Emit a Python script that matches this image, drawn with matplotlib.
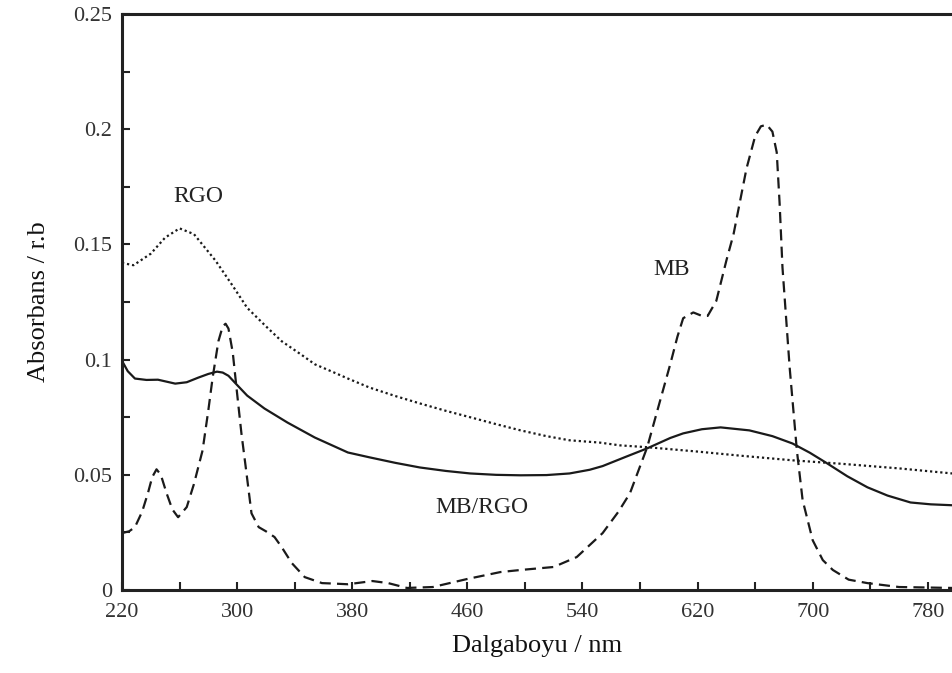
import matplotlib.pyplot as plt

plt.rcParams['font.family'] = ['Liberation Serif', 'DejaVu Serif']

# RGO (noktali)
rgo_x = [220, 228, 240, 250, 260, 270, 285, 297, 307, 320, 331, 345, 354, 366, 377,
         392, 410, 427, 445, 462, 480, 497, 515, 531, 552, 566, 585, 620, 650, 686,
         720, 760, 797]
rgo_y = [0.142, 0.141, 0.146, 0.153, 0.157, 0.1545, 0.143, 0.132, 0.1225, 0.1145, 0.108,
         0.102, 0.098, 0.0948, 0.0918, 0.0879, 0.0842, 0.081, 0.0778, 0.075, 0.072,
         0.0693, 0.0668, 0.065, 0.064, 0.0628, 0.062, 0.0601, 0.0583, 0.0563, 0.0548,
         0.0528, 0.0506]

# MB/RGO (duz cizgi)
mbrgo_x = [220, 224, 229, 237, 245, 257, 265, 273, 280, 286, 290, 294, 300, 307, 319,
           335, 354, 377, 392, 410, 427, 445, 462, 480, 497, 515, 531, 545, 554, 570,
           585, 601, 610, 623, 636, 656, 672, 686, 698, 710, 724, 738, 752, 768, 782, 797]
mbrgo_y = [0.0995, 0.095, 0.0918, 0.0912, 0.0913, 0.0896, 0.0902, 0.0922, 0.0938, 0.0948,
           0.0944, 0.093, 0.089, 0.0844, 0.0788, 0.0727, 0.0662, 0.0597, 0.0576, 0.0552,
           0.0532, 0.0517, 0.0506, 0.050, 0.0498, 0.0499, 0.0506, 0.0522, 0.0538, 0.0578,
           0.0615, 0.066, 0.068, 0.0698, 0.0706, 0.0693, 0.0668, 0.0636, 0.0596, 0.055,
           0.0494, 0.0446, 0.041, 0.038, 0.0372, 0.0368]

# MB (kesikli)
mb_x = [220, 225, 229, 234, 238, 241, 244, 247, 251, 255, 259, 265, 270, 276, 280, 283,
        287, 290, 292, 294, 297, 300, 303, 306, 310, 315, 320, 326, 331, 338, 347, 359,
        367, 377, 394, 405, 418, 436, 460, 483, 497, 520, 536, 554, 565, 573, 585, 594,
        601, 606, 610, 617, 623, 627, 633, 640, 645, 654, 660, 664, 668, 672, 675, 677,
        679, 684, 689, 693, 700, 707, 714, 725, 738, 760, 797]
mb_y = [0.0247, 0.0255, 0.0273, 0.034, 0.042, 0.049, 0.0524, 0.050, 0.042, 0.035, 0.0316,
        0.036, 0.046, 0.0606, 0.078, 0.0922, 0.108, 0.1145, 0.1156, 0.1135, 0.103, 0.0853,
        0.068, 0.0533, 0.0333, 0.0273, 0.0255, 0.023, 0.0186, 0.0117, 0.0056, 0.003,
        0.0028, 0.0025, 0.0039, 0.003, 0.0009, 0.0013, 0.0048, 0.0078, 0.0087, 0.01, 0.0143,
        0.0247, 0.034, 0.042, 0.062, 0.0823, 0.098, 0.11, 0.118, 0.1205, 0.119, 0.119,
        0.1255, 0.143, 0.1545, 0.183, 0.197, 0.2013, 0.202, 0.199, 0.19, 0.168, 0.14, 0.0965,
        0.0606, 0.039, 0.0216, 0.013, 0.0087, 0.0045, 0.003, 0.0013, 0.0009]

x_ticks = [220, 300, 380, 460, 540, 620, 700, 780]
x_minor = [260, 340, 420, 500, 580, 660, 740]
y_ticks = [0, 0.05, 0.1, 0.15, 0.2, 0.25]
y_labels = ['0', '0.05', '0.1', '0.15', '0.2', '0.25']
y_minor = [0.025, 0.075, 0.125, 0.175, 0.225]

fig = plt.figure(figsize=(9.53, 6.73), dpi=100)
ax = fig.add_axes([0.128, 0.1233, 0.872, 0.8557])

ax.plot(rgo_x, rgo_y, color='#1a1a1a', lw=1.6, linestyle=(0, (1, 1.3)))
ax.plot(mbrgo_x, mbrgo_y, color='#1a1a1a', lw=1.6, linestyle='-')
ax.plot(mb_x, mb_y, color='#1a1a1a', lw=1.6, linestyle=(0, (5, 2.8)))

ax.text(273, 0.171, 'RGO', fontsize=17, ha='center', va='center', color='#222222')
ax.text(602, 0.139, 'MB', fontsize=17, ha='center', va='center', color='#222222')
ax.text(470, 0.036, 'MB/RGO', fontsize=17, ha='center', va='center', color='#222222')

ax.set_xlim(220, 797.5)
ax.set_ylim(0, 0.25)
ax.set_xticks(x_ticks)
ax.set_xticks(x_minor, minor=True)
ax.set_yticks(y_ticks)
ax.set_yticklabels(y_labels)
ax.set_yticks(y_minor, minor=True)
ax.tick_params(which='both', direction='in', length=6, width=1.5, labelsize=16,
               colors='#222222', labelcolor='#333333')
ax.tick_params(axis='x', pad=9)
ax.tick_params(axis='y', pad=7)

for side in ['left', 'bottom', 'top']:
    ax.spines[side].set_linewidth(2.2)
    ax.spines[side].set_color('#222222')
ax.spines['right'].set_visible(False)

ax.set_xlabel('Dalgaboyu / nm', fontsize=19, color='#111111', labelpad=10)
ax.set_ylabel('Absorbans / r.b', fontsize=19, color='#111111', labelpad=17)

plt.savefig('out.png', dpi=100)
